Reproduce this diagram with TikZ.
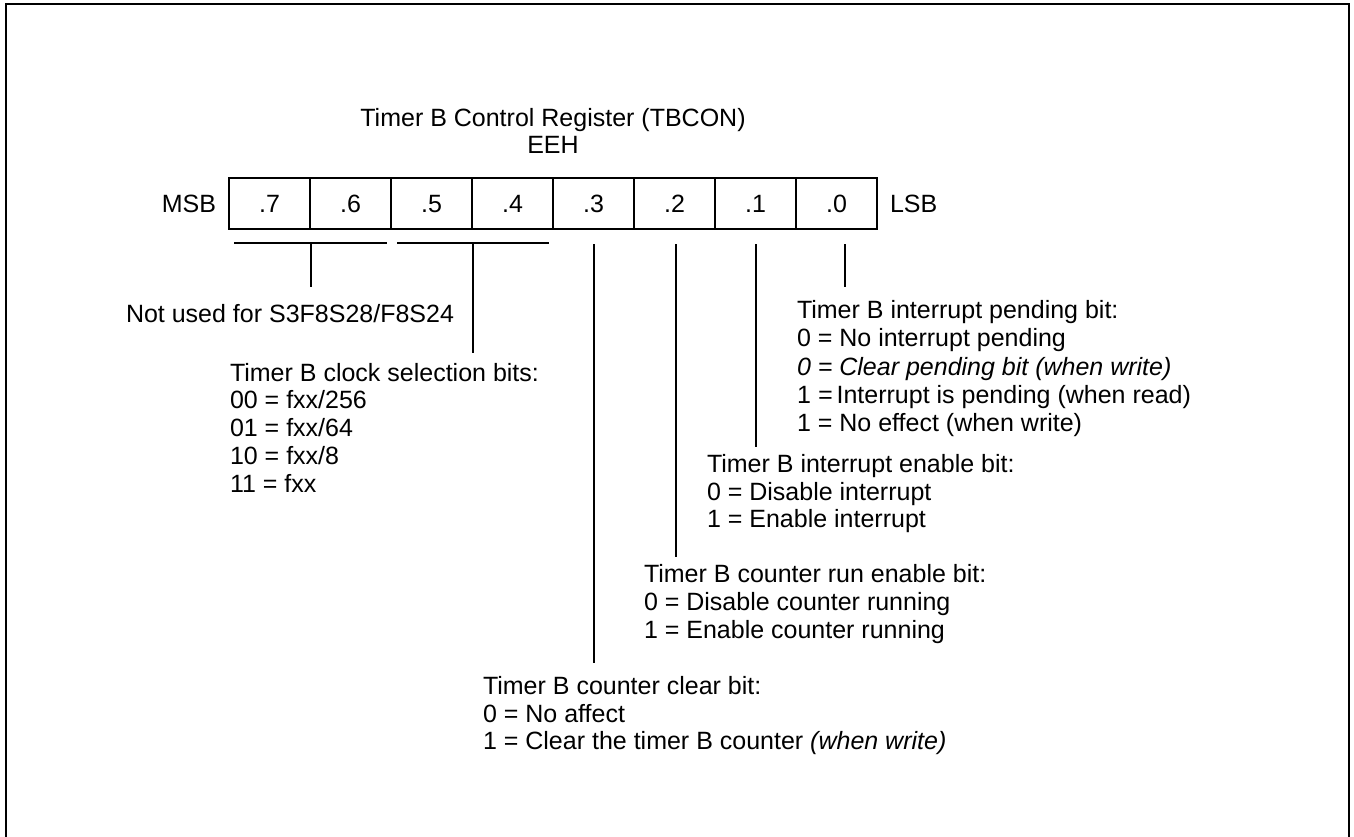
\documentclass[tikz,border=0pt]{standalone}
\usepackage{fontspec}
\setmainfont{Liberation Sans}
\begin{document}
\begin{tikzpicture}[x=1pt,y=-1pt,
  every node/.style={inner sep=0pt, outer sep=0pt, font=\fontsize{25}{28}\selectfont},
  cell/.style={draw, line width=1.3pt, minimum width=81pt, minimum height=51pt, text height=18pt, text depth=0pt},
  txt/.style={anchor=base west},
  lead/.style={line width=1.3pt}]
\useasboundingbox (0,0) rectangle (1354,837);
\draw[line width=2.2pt] (6.3,837) -- (6.3,4.2) -- (1349,4.2) -- (1349,837);

% title
\node[anchor=base] (title) at (553,127) {Timer B Control Register (TBCON)};
\node[anchor=base] (addr) at (553,154) {EEH};

% register
\node[cell] (c7) at (269.5,203.5) {.7};
\node[cell] (c6) at (350.5,203.5) {.6};
\node[cell] (c5) at (431.5,203.5) {.5};
\node[cell] (c4) at (512.5,203.5) {.4};
\node[cell] (c3) at (593.5,203.5) {.3};
\node[cell] (c2) at (674.5,203.5) {.2};
\node[cell] (c1) at (755.5,203.5) {.1};
\node[cell] (c0) at (836.5,203.5) {.0};
\node[anchor=base east] (msb) at (216,212.5) {MSB};
\node[anchor=base west] (lsb) at (890,212.5) {LSB};

% brackets and leaders
\coordinate (b76l) at (234,243);
\coordinate (b76r) at (387,243);
\coordinate (b76m) at (311,243);
\coordinate (b76e) at (311,287);
\coordinate (b54l) at (397,243);
\coordinate (b54r) at (549,243);
\coordinate (b54m) at (473,243);
\coordinate (b54e) at (473,353);
\draw[lead] (b76l) -- (b76r);
\draw[lead] (b76m) -- (b76e);
\draw[lead] (b54l) -- (b54r);
\draw[lead] (b54m) -- (b54e);
\coordinate (t3) at (594,244);
\coordinate (e3) at (594,663);
\coordinate (t2) at (676,244);
\coordinate (e2) at (676,557);
\coordinate (t1) at (756,244);
\coordinate (e1) at (756,447);
\coordinate (t0) at (845,244);
\coordinate (e0) at (845,287);
\draw[lead] (t3) -- (e3);
\draw[lead] (t2) -- (e2);
\draw[lead] (t1) -- (e1);
\draw[lead] (t0) -- (e0);

% not used
\node[txt] (nu) at (126,322) {Not used for S3F8S28/F8S24};

% clock selection
\node[txt] (ck0) at (230,381) {Timer B clock selection bits:};
\node[txt] (ck1) at (230,408) {00 = fxx/256};
\node[txt] (ck2) at (230,436) {01 = fxx/64};
\node[txt] (ck3) at (230,464) {10 = fxx/8};
\node[txt] (ck4) at (230,492) {11 = fxx};

% pending
\node[txt] (pd0) at (797,318) {Timer B interrupt pending bit:};
\node[txt] (pd1) at (797,346) {0 = No interrupt pending};
\node[txt] (pd2) at (797,375) {\itshape 0 = Clear pending bit (when write)};
\node[txt] (pd3) at (797,403) {1 \textit{=}\,Interrupt is pending (when read)};
\node[txt] (pd4) at (797,431) {1 = No effect (when write)};

% interrupt enable
\node[txt] (ie0) at (707,472) {Timer B interrupt enable bit:};
\node[txt] (ie1) at (707,500) {0 = Disable interrupt};
\node[txt] (ie2) at (707,527) {1 = Enable interrupt};

% run enable
\node[txt] (re0) at (644,582) {Timer B counter run enable bit:};
\node[txt] (re1) at (644,610) {0 = Disable counter running};
\node[txt] (re2) at (644,638) {1 = Enable counter running};

% clear
\node[txt] (cl0) at (483,694) {Timer B counter clear bit:};
\node[txt] (cl1) at (483,722) {0 = No affect};
\node[txt] (cl2) at (483,749) {1 = Clear the timer B counter \textit{(when write)}};
\end{tikzpicture}
\end{document}
